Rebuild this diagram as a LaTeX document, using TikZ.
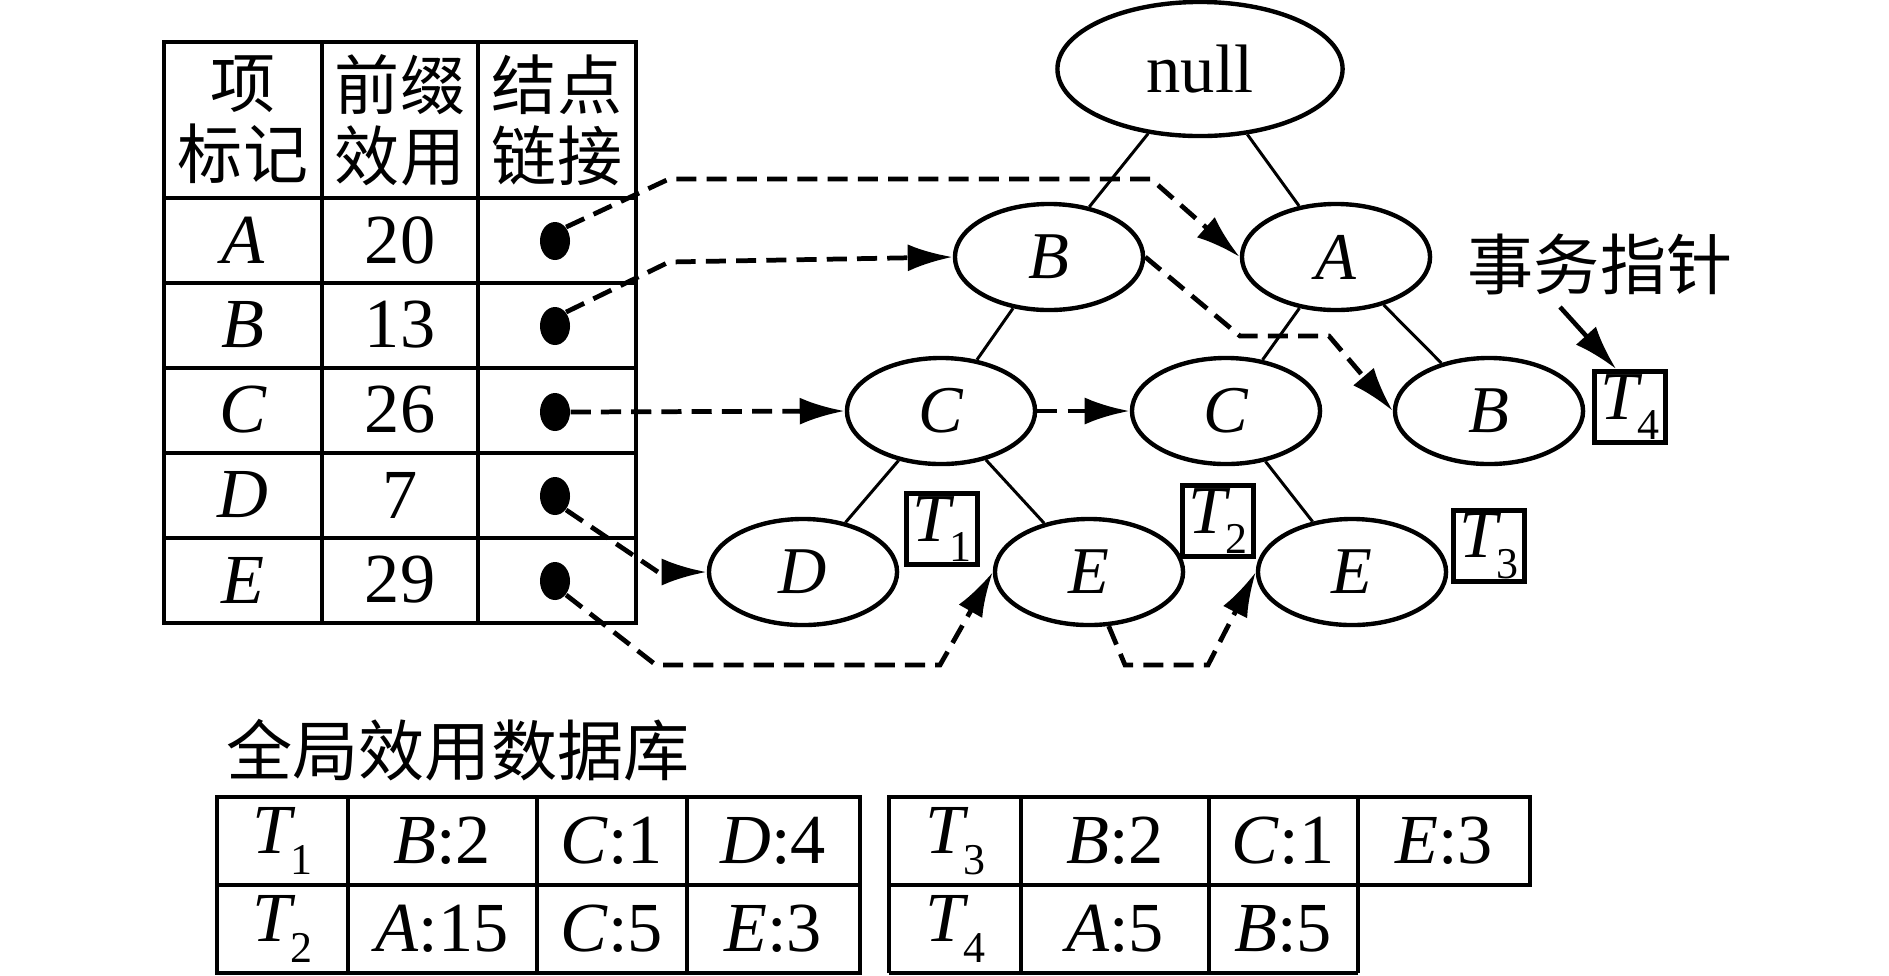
\documentclass[tikz,border=0pt]{standalone}
\usepackage{fontspec}
\setmainfont{Liberation Serif}
\newfontfamily\cjk{Noto Sans CJK SC}
\usepackage{tikz}
\usetikzlibrary{shapes,arrows.meta}
\newcommand{\tid}[2]{\textit{#1}\kern-1.5pt\raisebox{-0.3em}{\fontsize{12.5}{13}\selectfont #2}}
\tikzstyle{tnode} = [ellipse, draw, line width=1.25pt, minimum width=1.88cm, minimum height=1.06cm, inner sep=0pt, font=\fontsize{19}{20}\selectfont\itshape]
\tikzstyle{tbox} = [rectangle, draw, line width=1.35pt, minimum size=0.71cm, inner sep=0pt, font=\fontsize{19.5}{20}\selectfont]
\tikzstyle{cell} = [font=\fontsize{20}{22}\selectfont]
\tikzstyle{head} = [align=center, font=\cjk\fontsize{18.5}{20.2}\selectfont]
\tikzstyle{title} = [font=\cjk\fontsize{18.8}{20}\selectfont]
\tikzstyle{bullet} = [ellipse, fill, minimum width=0.3cm, minimum height=0.38cm, inner sep=0pt]
\tikzstyle{tedge} = [draw, line width=0.85pt]
\tikzstyle{tabline} = [line width=1.3pt]
\tikzstyle{link} = [draw, line width=1.35pt, dash pattern=on 5.7pt off 2.9pt, -{Latex[length=4.5mm,width=2.7mm]}]
\tikzstyle{ptr} = [draw, line width=1.3pt, -{Latex[length=4.5mm,width=2.7mm]}]

\begin{document}
\begin{tikzpicture}[x=0.01cm, y=-0.01cm]
        \useasboundingbox (0,0) rectangle (1889,975);
        % Item table
        \draw [tabline] (164,42) rectangle (636,623);
        \draw [tabline] (322,42) -- (322,623);
        \draw [tabline] (478,42) -- (478,623);
        \draw [tabline] (164,198) -- (636,198);
        \draw [tabline] (164,283) -- (636,283);
        \draw [tabline] (164,368) -- (636,368);
        \draw [tabline] (164,453) -- (636,453);
        \draw [tabline] (164,538) -- (636,538);
        \node at (243, 120) [head] (h1) {项\\标记};
        \node at (400, 120) [head] (h2) {前缀\\效用};
        \node at (557, 120) [head] (h3) {结点\\链接};
        \node at (243, 240) [cell] (kA) {\textit{A}};
        \node at (243, 325) [cell] (kB) {\textit{B}};
        \node at (243, 410) [cell] (kC) {\textit{C}};
        \node at (243, 495) [cell] (kD) {\textit{D}};
        \node at (243, 580) [cell] (kE) {\textit{E}};
        \node at (400, 240) [cell] (uA) {20};
        \node at (400, 325) [cell] (uB) {13};
        \node at (400, 410) [cell] (uC) {26};
        \node at (400, 495) [cell] (uD) {7};
        \node at (400, 580) [cell] (uE) {29};
        \node at (555, 241) [bullet] (dA) {};
        \node at (555, 326) [bullet] (dB) {};
        \node at (555, 412) [bullet] (dC) {};
        \node at (555, 496) [bullet] (dD) {};
        \node at (555, 581) [bullet] (dE) {};

        % Place tree nodes
        \node at (1200, 69) [tnode, minimum width=2.85cm, minimum height=1.34cm, font=\fontsize{19.5}{20}\selectfont] (root) {null};
        \node at (1049, 257) [tnode] (nB) {B};
        \node at (1336, 257) [tnode] (nA) {A};
        \node at (941, 411) [tnode] (nC1) {C};
        \node at (1226, 411) [tnode] (nC2) {C};
        \node at (1489, 411) [tnode] (nB2) {B};
        \node at (803, 572) [tnode] (nD) {D};
        \node at (1089, 572) [tnode] (nE1) {E};
        \node at (1352, 572) [tnode] (nE2) {E};
        \node at (942, 529) [tbox] (t1) {\tid{T}{1}};
        \node at (1218, 521) [tbox] (t2) {\tid{T}{2}};
        \node at (1489, 546) [tbox] (t3) {\tid{T}{3}};
        \node at (1630, 407) [tbox] (t4) {\tid{T}{4}};
        \node at (1600, 264) [title] (tp) {事务指针};
        \coordinate (tpfoot) at (1560, 307);

        % Draw tree edges
        \path [tedge] (root) -- (nB);
        \path [tedge] (root) -- (nA);
        \path [tedge] (nB) -- (nC1);
        \path [tedge] (nA) -- (nC2);
        \path [tedge] (nA) -- (nB2);
        \path [tedge] (nC1) -- (nD);
        \path [tedge] (nC1) -- (nE1);
        \path [tedge] (nC2) -- (nE2);

        % Node links
        \path [link] (dA.north east) -- (669,179) -- (1151,179) -- (nA.west);
        \path [link] (dB.north east) -- (669,262) -- (nB.west);
        \path [link] (dC.east) -- (nC1.west);
        \path [link] (nC1.east) -- (nC2.west);
        \path [link] (dD.south east) -- (658,572) -- (nD.west);
        \path [link] (dE.south east) -- (656,665) -- (940,665) -- (nE1.west);
        \path [link] (nB.east) -- (1240,336) -- (1329,336) -- (nB2.west);
        \path [link] (nE1.-70) -- (1125,665) -- (1208,665) -- (nE2.west);
        \path [ptr] (tpfoot) -- (t4.110);

        % Global utility database
        \node at (458, 750) [title] (db) {全局效用数据库};
        \draw [tabline] (217,797) rectangle (860,973);
        \draw [tabline] (217,885) -- (860,885);
        \draw [tabline] (348,797) -- (348,973);
        \draw [tabline] (537,797) -- (537,973);
        \draw [tabline] (687,797) -- (687,973);
        \draw [tabline] (889,973) -- (889,797) -- (1530,797) -- (1530,885) -- (889,885);
        \draw [tabline] (889,973) -- (1358,973);
        \draw [tabline] (1021,797) -- (1021,973);
        \draw [tabline] (1209,797) -- (1209,973);
        \draw [tabline] (1358,797) -- (1358,973);
        \node at (282, 841) [cell] (r1a) {\tid{T}{1}};
        \node at (442, 841) [cell] (r1b) {\textit{B}:2};
        \node at (612, 841) [cell] (r1c) {\textit{C}:1};
        \node at (773, 841) [cell] (r1d) {\textit{D}:4};
        \node at (282, 929) [cell] (r2a) {\tid{T}{2}};
        \node at (442, 929) [cell] (r2b) {\textit{A}:15};
        \node at (612, 929) [cell] (r2c) {\textit{C}:5};
        \node at (773, 929) [cell] (r2d) {\textit{E}:3};
        \node at (955, 841) [cell] (r3a) {\tid{T}{3}};
        \node at (1115, 841) [cell] (r3b) {\textit{B}:2};
        \node at (1283, 841) [cell] (r3c) {\textit{C}:1};
        \node at (1444, 841) [cell] (r3d) {\textit{E}:3};
        \node at (955, 929) [cell] (r4a) {\tid{T}{4}};
        \node at (1115, 929) [cell] (r4b) {\textit{A}:5};
        \node at (1283, 929) [cell] (r4c) {\textit{B}:5};
    \end{tikzpicture}
\end{document}
